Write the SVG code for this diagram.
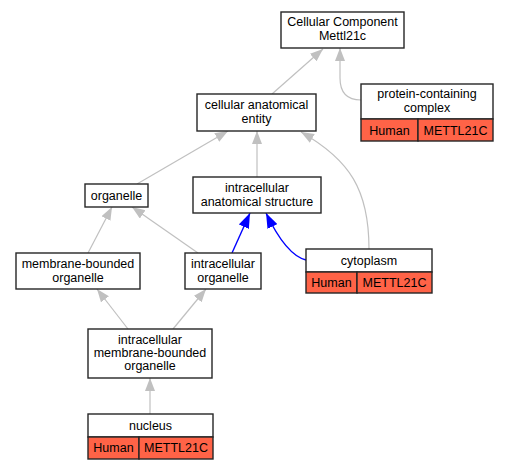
<svg xmlns="http://www.w3.org/2000/svg" width="508" height="469" viewBox="0 0 508 469">
<style>
text{font-family:"Liberation Sans",Arial,sans-serif;font-size:12.5px;fill:#000;text-anchor:middle}
.box{fill:#fff;stroke:#262626;stroke-width:1.4}
.red{fill:#ff6347;stroke:#262626;stroke-width:1.4}
.e{fill:none;stroke:#c0c0c0;stroke-width:1.2}
.b{fill:none;stroke:#0000ff;stroke-width:1.4}
</style>
<defs>
<marker id="ga" markerUnits="userSpaceOnUse" markerWidth="14" markerHeight="11" refX="13" refY="5" orient="auto" viewBox="0 0 14 11"><path d="M0,0 L13,5 L0,10 z" fill="#c0c0c0"/></marker>
<marker id="ba" markerUnits="userSpaceOnUse" markerWidth="16" markerHeight="11" refX="15" refY="5.5" orient="auto" viewBox="0 0 16 11"><path d="M0,0 L15,5.5 L0,11 z" fill="#0000ff"/></marker>
</defs>
<rect width="508" height="469" fill="#fff"/>
<g id="edges">
<path class="e" marker-end="url(#ga)" d="M272,94 L323,49"/>
<path class="e" marker-end="url(#ga)" d="M361,100 C347,100 340,92 340,78 L340,48"/>
<path class="e" marker-end="url(#ga)" d="M137,184 L228,131"/>
<path class="e" marker-end="url(#ga)" d="M257,177 L257,131"/>
<path class="e" marker-end="url(#ga)" d="M369,249 C369,190 350,160 301,132"/>
<path class="e" marker-end="url(#ga)" d="M88,253 L112,207"/>
<path class="e" marker-end="url(#ga)" d="M198,253 L132,207"/>
<path class="b" marker-end="url(#ba)" d="M232,253 L250,213"/>
<path class="b" marker-end="url(#ba)" d="M306,260 C290,256 277,236 266,213"/>
<path class="e" marker-end="url(#ga)" d="M128,329 L97,289"/>
<path class="e" marker-end="url(#ga)" d="M173,329 L206,289"/>
<path class="e" marker-end="url(#ga)" d="M150,414 L150,378"/>
</g>
<g id="n_cc">
<rect class="box" x="281" y="12" width="123" height="36"/>
<text x="342.5" y="26">Cellular Component</text>
<text x="342.5" y="40">Mettl21c</text>
</g>
<g id="n_pcc">
<rect class="box" x="361" y="84" width="132" height="35"/>
<text x="427" y="98">protein-containing</text>
<text x="427" y="112">complex</text>
<rect class="red" x="361" y="119" width="57" height="22"/>
<rect class="red" x="418" y="119" width="75" height="22"/>
<text x="389.5" y="134.5">Human</text>
<text x="455.5" y="134.5">METTL21C</text>
</g>
<g id="n_cae">
<rect class="box" x="197" y="94" width="119" height="37"/>
<text x="256.5" y="109">cellular anatomical</text>
<text x="256.5" y="123">entity</text>
</g>
<g id="n_org">
<rect class="box" x="85" y="184" width="63" height="23"/>
<text x="116.5" y="200">organelle</text>
</g>
<g id="n_ias">
<rect class="box" x="193" y="177" width="128" height="36"/>
<text x="257" y="192">intracellular</text>
<text x="257" y="206">anatomical structure</text>
</g>
<g id="n_mbo">
<rect class="box" x="16" y="253" width="124" height="36"/>
<text x="78" y="268">membrane-bounded</text>
<text x="78" y="282">organelle</text>
</g>
<g id="n_io">
<rect class="box" x="185" y="253" width="76" height="36"/>
<text x="223" y="268">intracellular</text>
<text x="223" y="282">organelle</text>
</g>
<g id="n_cyto">
<rect class="box" x="306" y="249" width="126" height="23"/>
<text x="369" y="264.5">cytoplasm</text>
<rect class="red" x="306" y="272" width="51" height="21"/>
<rect class="red" x="357" y="272" width="75" height="21"/>
<text x="331.5" y="287">Human</text>
<text x="394.5" y="287">METTL21C</text>
</g>
<g id="n_imbo">
<rect class="box" x="88" y="329" width="124" height="49"/>
<text x="150" y="343.5">intracellular</text>
<text x="150" y="356.5">membrane-bounded</text>
<text x="150" y="369.5">organelle</text>
</g>
<g id="n_nuc">
<rect class="box" x="88" y="414" width="125" height="23"/>
<text x="150.5" y="429.5">nucleus</text>
<rect class="red" x="88" y="437" width="51" height="22"/>
<rect class="red" x="139" y="437" width="74" height="22"/>
<text x="113.5" y="452">Human</text>
<text x="176" y="452">METTL21C</text>
</g>
</svg>
